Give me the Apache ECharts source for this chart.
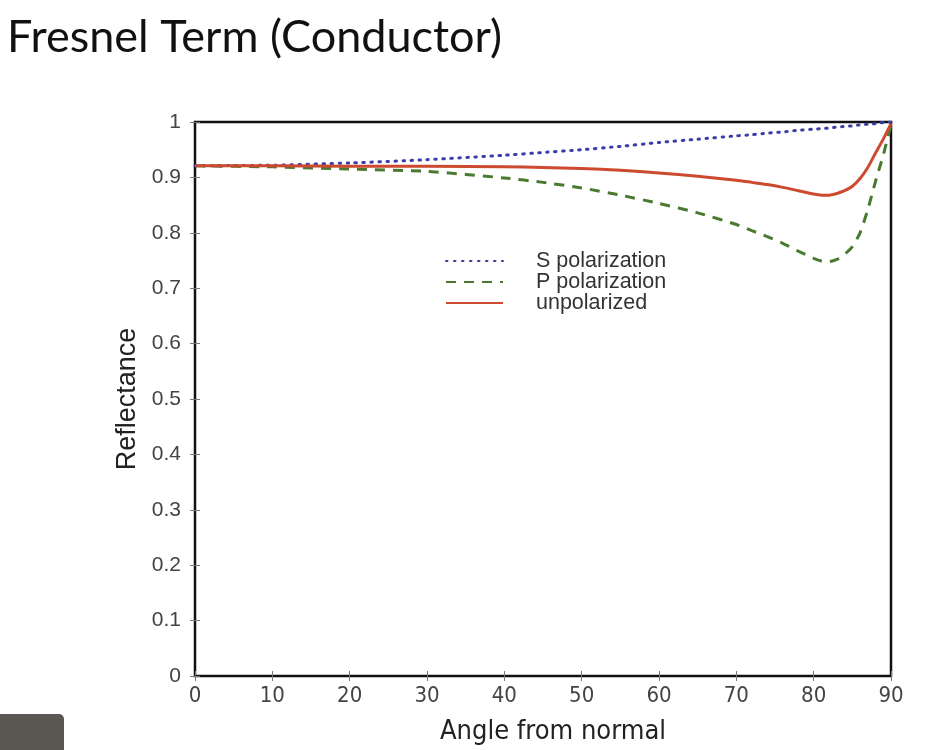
<!DOCTYPE html>
<html>
<head>
<meta charset="utf-8" />
<script src="https://cdn.jsdelivr.net/npm/echarts@6/dist/echarts.min.js" type="text/javascript" charset="utf-8"></script>
<title>Fresnel Term (Conductor)</title>
<style>
  html, body { margin: 0; padding: 0; background: #fff; }
</style>
</head>
<body>
<div id="main" style="width: 937px;height:750px;"></div>
<script type="text/javascript">
// angles (degrees) and reflectance
var angles = [0, 10, 20, 30, 40, 45, 50, 55, 60, 65, 70, 72, 74, 76, 78, 80, 81, 82, 83, 84, 85, 86, 87, 88, 89, 90];
var sPol = [0.921, 0.922, 0.926, 0.932, 0.940, 0.945, 0.950, 0.956, 0.963, 0.969, 0.975, 0.977, 0.980, 0.982, 0.985, 0.987, 0.988, 0.989, 0.991, 0.992, 0.993, 0.995, 0.996, 0.997, 0.999, 1.0];
var pPol = [0.921, 0.919, 0.915, 0.911, 0.899, 0.891, 0.881, 0.868, 0.853, 0.836, 0.815, 0.804, 0.793, 0.781, 0.767, 0.754, 0.749, 0.748, 0.752, 0.761, 0.775, 0.800, 0.842, 0.893, 0.940, 0.995];
var unPol = [0.921, 0.921, 0.920, 0.920, 0.919, 0.918, 0.916, 0.913, 0.908, 0.902, 0.895, 0.891, 0.887, 0.882, 0.876, 0.870, 0.868, 0.868, 0.871, 0.876, 0.884, 0.898, 0.918, 0.944, 0.969, 0.997];
var seriesNames = ['S polarization', 'P polarization', 'unpolarized'];

function pairs(ys) {
  var out = [];
  for (var i = 0; i < angles.length; i++) out.push([angles[i], ys[i]]);
  return out;
}

var dom = document.getElementById("main");
var myChart = echarts.init(dom);

var tickStyle = { show: true, inside: true, length: 5, lineStyle: { color: '#777', width: 1 } };
var narrow = "'DejaVu Sans Condensed', 'Liberation Sans', sans-serif";

var option = {
  backgroundColor: '#fff',
  animation: false,
  title: {
    text: 'Fresnel Term (Conductor)',
    left: 2,
    top: 10,
    textStyle: { fontFamily: 'Lato', fontSize: 45, fontWeight: 'normal', color: '#111' }
  },
  legend: {
    orient: 'vertical',
    left: 440,
    top: 245,
    itemWidth: 57,
    itemHeight: 14,
    itemGap: -1,
    data: seriesNames,
    itemStyle: { opacity: 0 },
    textStyle: { fontFamily: 'Liberation Sans', fontSize: 21.5, lineHeight: 20, color: '#333', padding: [0, 0, 0, 28] }
  },
  grid: {
    left: 195, top: 122, right: 46, bottom: 73,
    show: true, borderColor: '#111', borderWidth: 2.5, backgroundColor: '#fff'
  },
  xAxis: [{
    type: 'value', min: 0, max: 90, interval: 10,
    name: 'Angle from normal', nameLocation: 'middle', nameGap: 42,
    nameTextStyle: { fontFamily: narrow, fontSize: 27, color: '#222', padding: [0, 0, 0, 20] },
    axisLine: { show: false },
    axisTick: tickStyle,
    splitLine: { show: false },
    axisLabel: { margin: 9, fontFamily: narrow, fontSize: 22, color: '#444' }
  }, {
    type: 'value', min: 0, max: 90, interval: 10, position: 'top',
    axisLine: { show: false }, axisTick: tickStyle, axisLabel: { show: false }, splitLine: { show: false }
  }],
  yAxis: [{
    type: 'value', min: 0, max: 1, interval: 0.1,
    name: 'Reflectance', nameLocation: 'middle', nameGap: 54, nameRotate: 90,
    nameTextStyle: { fontFamily: 'Liberation Sans', fontSize: 27, color: '#222' },
    axisLine: { show: false },
    axisTick: tickStyle,
    splitLine: { show: false },
    axisLabel: { margin: 14, fontFamily: 'Liberation Sans', fontSize: 21, color: '#444' }
  }, {
    type: 'value', min: 0, max: 1, interval: 0.1, position: 'right',
    axisLine: { show: false }, axisTick: tickStyle, axisLabel: { show: false }, splitLine: { show: false }
  }],
  series: [{
    name: seriesNames[0], type: 'line', data: pairs(sPol), showSymbol: false, symbol: 'none', smooth: 0.2,
    lineStyle: { color: '#3c3ca8', width: 3, type: [1.5, 6.5], cap: 'round' },
    itemStyle: { color: '#3c3ca8' }, z: 3
  }, {
    name: seriesNames[1], type: 'line', data: pairs(pPol), showSymbol: false, symbol: 'none', smooth: 0.2,
    lineStyle: { color: '#4a7a30', width: 3, type: [10, 8] },
    itemStyle: { color: '#4a7a30' }, z: 2
  }, {
    name: seriesNames[2], type: 'line', data: pairs(unPol), showSymbol: false, symbol: 'none', smooth: 0.2,
    lineStyle: { color: '#cc4a30', width: 3 },
    itemStyle: { color: '#cc4a30' }, z: 4
  }],
  graphic: [{
    type: 'rect', left: 0, top: 714, shape: { width: 64, height: 40, r: [0, 5, 0, 0] },
    style: { fill: '#5a5752' }
  }]
};
myChart.setOption(option);
</script>
</body>
</html>
